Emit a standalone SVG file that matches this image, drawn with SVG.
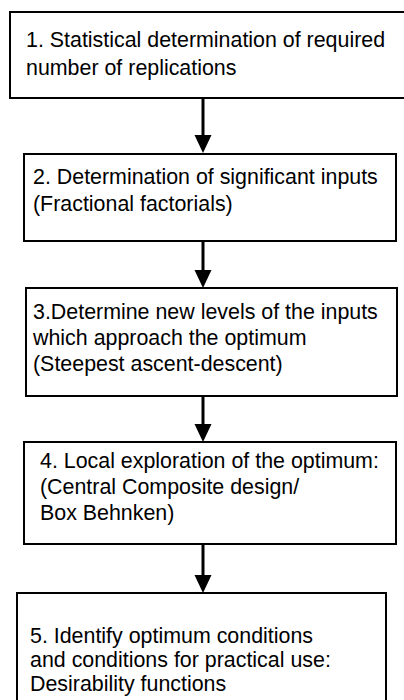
<svg xmlns="http://www.w3.org/2000/svg" width="404" height="700" viewBox="0 0 404 700">
<defs>
<style>
.box{fill:#fff;stroke:#000;stroke-width:2}
.t{font-family:"Liberation Sans",Arial,sans-serif;font-size:21.4px;fill:#000}
.c{stroke:#000;stroke-width:3;fill:none}
.h{fill:#000}
</style>
</defs>
<rect width="404" height="700" fill="#fff"/>
<g id="n1">
<rect class="box" x="10" y="12" width="400" height="86"/>
<text class="t" x="26" y="47">1. Statistical determination of required</text>
<text class="t" x="26" y="75">number of replications</text>
</g>
<g id="n2">
<rect class="box" x="24" y="154" width="372" height="87"/>
<text class="t" x="33" y="184">2. Determination of significant inputs</text>
<text class="t" x="33" y="211">(Fractional factorials)</text>
</g>
<g id="n3">
<rect class="box" x="26" y="288" width="371" height="108"/>
<text class="t" x="33" y="319">3.Determine new levels of the inputs</text>
<text class="t" x="33" y="345">which approach the optimum</text>
<text class="t" x="33" y="371">(Steepest ascent-descent)</text>
</g>
<g id="n4">
<rect class="box" x="24" y="442" width="372" height="102"/>
<text class="t" x="40" y="468">4. Local exploration of the optimum:</text>
<text class="t" x="40" y="494">(Central Composite design/</text>
<text class="t" x="40" y="520">Box Behnken)</text>
</g>
<g id="n5">
<rect class="box" x="17" y="593" width="369" height="120"/>
<text class="t" x="30" y="643">5. Identify optimum conditions</text>
<text class="t" x="30" y="667">and conditions for practical use:</text>
<text class="t" x="30" y="691">Desirability functions</text>
</g>
<g id="connectors">
<line class="c" x1="203" y1="99" x2="203" y2="137"/>
<polygon class="h" points="194.5,135 211.5,135 203,153"/>
<line class="c" x1="203" y1="242" x2="203" y2="272"/>
<polygon class="h" points="194.5,270 211.5,270 203,288"/>
<line class="c" x1="203" y1="397" x2="203" y2="426"/>
<polygon class="h" points="194.5,424 211.5,424 203,442"/>
<line class="c" x1="203" y1="545" x2="203" y2="577"/>
<polygon class="h" points="194.5,575 211.5,575 203,593"/>
</g>
</svg>
